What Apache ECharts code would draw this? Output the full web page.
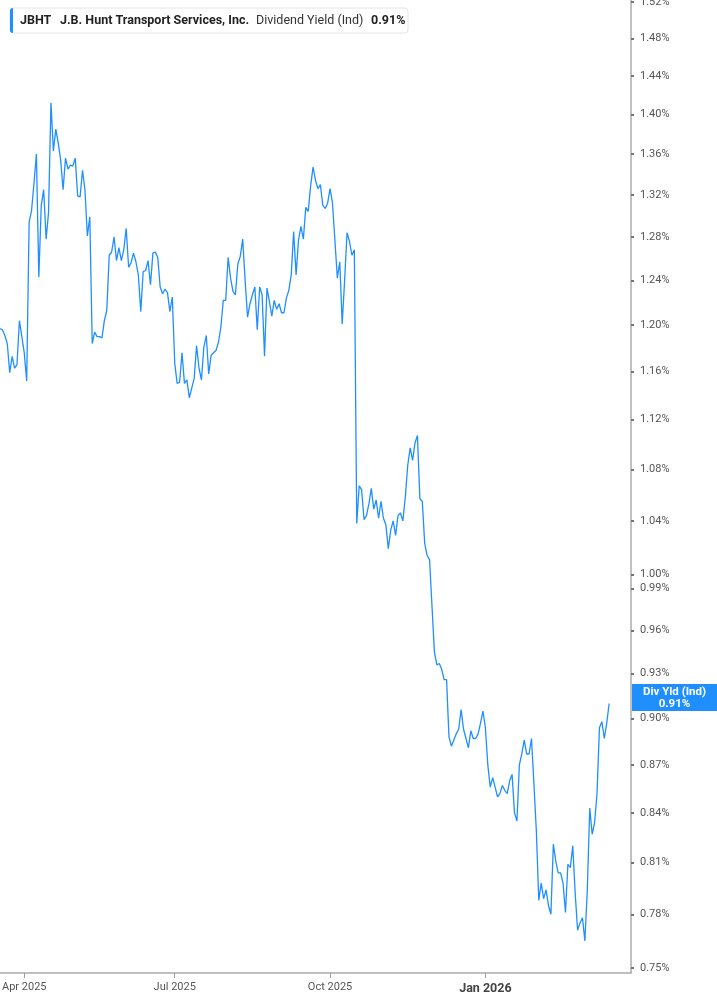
<!DOCTYPE html>
<html>
<head>
<meta charset="utf-8">
<script src="https://cdn.jsdelivr.net/npm/echarts@6/dist/echarts.min.js"></script>
<style>
html,body{margin:0;padding:0;background:#ffffff;}
#chart{width:717px;height:1005px;}
</style>
</head>
<body>
<div id="chart"></div>
<script>
// ---------- data ----------
const ticker = 'JBHT';
const companyName = 'J.B. Hunt Transport Services, Inc.';
const metricName = 'Dividend Yield (Ind)';
const metricShort = 'Div Yld (Ind)';

// trading-day calendar (one point per US market session)
const startDate = '2025-03-18';
const marketHolidays = ['2025-04-18','2025-05-26','2025-06-19','2025-07-04','2025-09-01',
                        '2025-11-27','2025-12-25','2026-01-01','2026-01-19','2026-02-16'];
const axisSessions = 261;   // sessions shown on the axis (data + empty room on the right)

// dividend yield, percent, one value per session from startDate
const yieldPct = [
 1.197,1.196,1.191,1.184,1.159,1.173,1.163,1.166,1.204,1.190,
 1.176,1.152,1.294,1.305,1.331,1.360,1.243,1.310,1.325,1.278,
 1.303,1.412,1.363,1.385,1.371,1.354,1.325,1.356,1.345,1.349,
 1.348,1.356,1.319,1.318,1.344,1.325,1.281,1.299,1.184,1.194,
 1.190,1.190,1.189,1.204,1.213,1.263,1.266,1.280,1.258,1.270,
 1.258,1.268,1.288,1.252,1.256,1.265,1.257,1.245,1.212,1.248,
 1.249,1.258,1.236,1.265,1.266,1.261,1.234,1.228,1.232,1.229,
 1.212,1.225,1.167,1.150,1.151,1.176,1.150,1.153,1.138,1.146,
 1.154,1.182,1.163,1.153,1.181,1.191,1.158,1.174,1.176,1.178,
 1.185,1.198,1.222,1.222,1.261,1.242,1.230,1.227,1.255,1.262,
 1.278,1.240,1.207,1.219,1.227,1.234,1.196,1.234,1.227,1.173,
 1.233,1.221,1.208,1.222,1.214,1.219,1.211,1.211,1.224,1.231,
 1.245,1.285,1.245,1.277,1.290,1.278,1.308,1.304,1.329,1.347,
 1.334,1.326,1.330,1.310,1.307,1.312,1.326,1.312,1.277,1.242,
 1.257,1.201,1.240,1.284,1.276,1.263,1.268,1.038,1.067,1.064,
 1.041,1.044,1.053,1.065,1.049,1.056,1.042,1.055,1.042,1.037,
 1.019,1.033,1.040,1.029,1.044,1.046,1.040,1.058,1.083,1.097,
 1.087,1.101,1.107,1.057,1.055,1.023,1.014,1.011,0.977,0.945,
 0.936,0.937,0.933,0.926,0.926,0.888,0.882,0.886,0.890,0.893,
 0.906,0.893,0.887,0.881,0.892,0.887,0.887,0.890,0.897,0.905,
 0.894,0.870,0.856,0.862,0.856,0.850,0.852,0.857,0.854,0.852,
 0.860,0.864,0.840,0.835,0.870,0.877,0.886,0.877,0.877,0.887,
 0.858,0.829,0.788,0.798,0.789,0.794,0.785,0.780,0.821,0.811,
 0.804,0.804,0.798,0.781,0.809,0.807,0.820,0.792,0.771,0.775,
 0.778,0.765,0.794,0.843,0.827,0.834,0.852,0.894,0.898,0.887,
 0.897,0.910
];

// y-axis tick labels (percent) and visible range (log-scaled axis)
const yTickValues = [1.52,1.48,1.44,1.40,1.36,1.32,1.28,1.24,1.20,1.16,1.12,1.08,1.04,
                     1.00,0.99,0.96,0.93,0.90,0.87,0.84,0.81,0.78,0.75];
const yRange = [0.7472, 1.5222];
const monthNames = ['Jan','Feb','Mar','Apr','May','Jun','Jul','Aug','Sep','Oct','Nov','Dec'];

// ---------- helpers ----------
function tradingDays(start, n, hol) {
  const out = [];
  const d = new Date(start + 'T00:00:00Z');
  while (out.length < n) {
    const dow = d.getUTCDay();
    const s = d.toISOString().slice(0, 10);
    if (dow !== 0 && dow !== 6 && hol.indexOf(s) < 0) out.push(s);
    d.setUTCDate(d.getUTCDate() + 1);
  }
  return out;
}
const dates = tradingDays(startDate, axisSessions, marketHolidays);
function isQuarterStart(i) {
  if (i <= 0) return false;
  const m = +dates[i].slice(5, 7), pm = +dates[i - 1].slice(5, 7);
  return m !== pm && (m - 1) % 3 === 0;
}
const logTicks = yTickValues.map(v => Math.log(v));
const lastValue = yieldPct[yieldPct.length - 1];
const lastLabel = lastValue.toFixed(2) + '%';
const lineColor = '#1f8fff';

// ---------- chart ----------
const chart = echarts.init(document.getElementById('chart'));
chart.setOption({
  animation: false,
  backgroundColor: '#ffffff',
  grid: { left: 0, right: 86, top: 0, bottom: 32, containLabel: false, outerBoundsMode: 'none' },
  xAxis: {
    type: 'category',
    data: dates,
    boundaryGap: false,
    axisLine: { show: true, onZero: false, lineStyle: { color: '#ababab', width: 1.5 } },
    axisTick: { show: true, length: 5, interval: (i) => isQuarterStart(i), lineStyle: { color: '#9a9a9a', width: 1 } },
    axisLabel: {
      interval: (i) => isQuarterStart(i),
      margin: 9,
      color: '#555',
      fontSize: 11,
      fontFamily: 'Roboto',
      formatter: (v) => {
        const m = +v.slice(5, 7);
        const txt = monthNames[m - 1] + ' ' + v.slice(0, 4);
        return m === 1 ? '{b|' + txt + '}' : txt;
      },
      rich: { b: { fontWeight: 'bold', fontSize: 12.5, color: '#444', fontFamily: 'Roboto' } }
    },
    splitLine: { show: false }
  },
  yAxis: {
    type: 'value',
    position: 'right',
    min: Math.log(yRange[0]),
    max: Math.log(yRange[1]),
    splitLine: { show: false },
    axisLine: { show: true, onZero: false, lineStyle: { color: '#ababab', width: 1.5 } },
    axisTick: { show: true, length: 3, customValues: logTicks, lineStyle: { color: '#777', width: 2 } },
    axisLabel: {
      customValues: logTicks,
      formatter: (v) => Math.exp(v).toFixed(2) + '%',
      color: '#555',
      fontSize: 11,
      fontFamily: 'Roboto',
      margin: 9
    }
  },
  series: [{
    type: 'line',
    data: yieldPct.map(v => Math.log(v)),
    showSymbol: false,
    symbol: 'none',
    lineStyle: { color: lineColor, width: 1.3 },
    markLine: {
      silent: true,
      animation: false,
      symbol: ['none', 'none'],
      lineStyle: { width: 0, color: 'rgba(0,0,0,0)' },
      data: [{ yAxis: Math.log(lastValue) }],
      label: {
        show: true,
        position: 'end',
        distance: 1,
        backgroundColor: lineColor,
        padding: [2, 0, 1, 0],
        formatter: '{a|' + metricShort + '}\n{a|' + lastLabel + '}',
        rich: { a: { width: 85, align: 'center', color: '#fff', fontWeight: 'bold', fontSize: 11.5, lineHeight: 12, fontFamily: 'Roboto' } }
      }
    }
  }],
  graphic: [
    { type: 'rect', x: 10, y: 8, shape: { width: 398, height: 25, r: 3 }, style: { fill: '#fff', stroke: '#e4e4e4', lineWidth: 1 }, z: 10 },
    { type: 'rect', x: 10, y: 8, shape: { width: 3, height: 25, r: [3, 0, 0, 3] }, style: { fill: lineColor }, z: 11 },
    { type: 'text', x: 20, y: 21, style: { text: ticker, font: 'bold 12.5px Roboto', fill: '#222', verticalAlign: 'middle' }, z: 11 },
    { type: 'text', x: 60, y: 21, style: { text: companyName, font: 'bold 12.5px Roboto', fill: '#222', verticalAlign: 'middle' }, z: 11 },
    { type: 'text', x: 256, y: 21, style: { text: metricName, font: '12.5px Roboto', fill: '#333', verticalAlign: 'middle' }, z: 11 },
    { type: 'text', x: 371, y: 21, style: { text: lastLabel, font: 'bold 12.5px Roboto', fill: '#222', verticalAlign: 'middle' }, z: 11 }
  ]
});
</script>
</body>
</html>
